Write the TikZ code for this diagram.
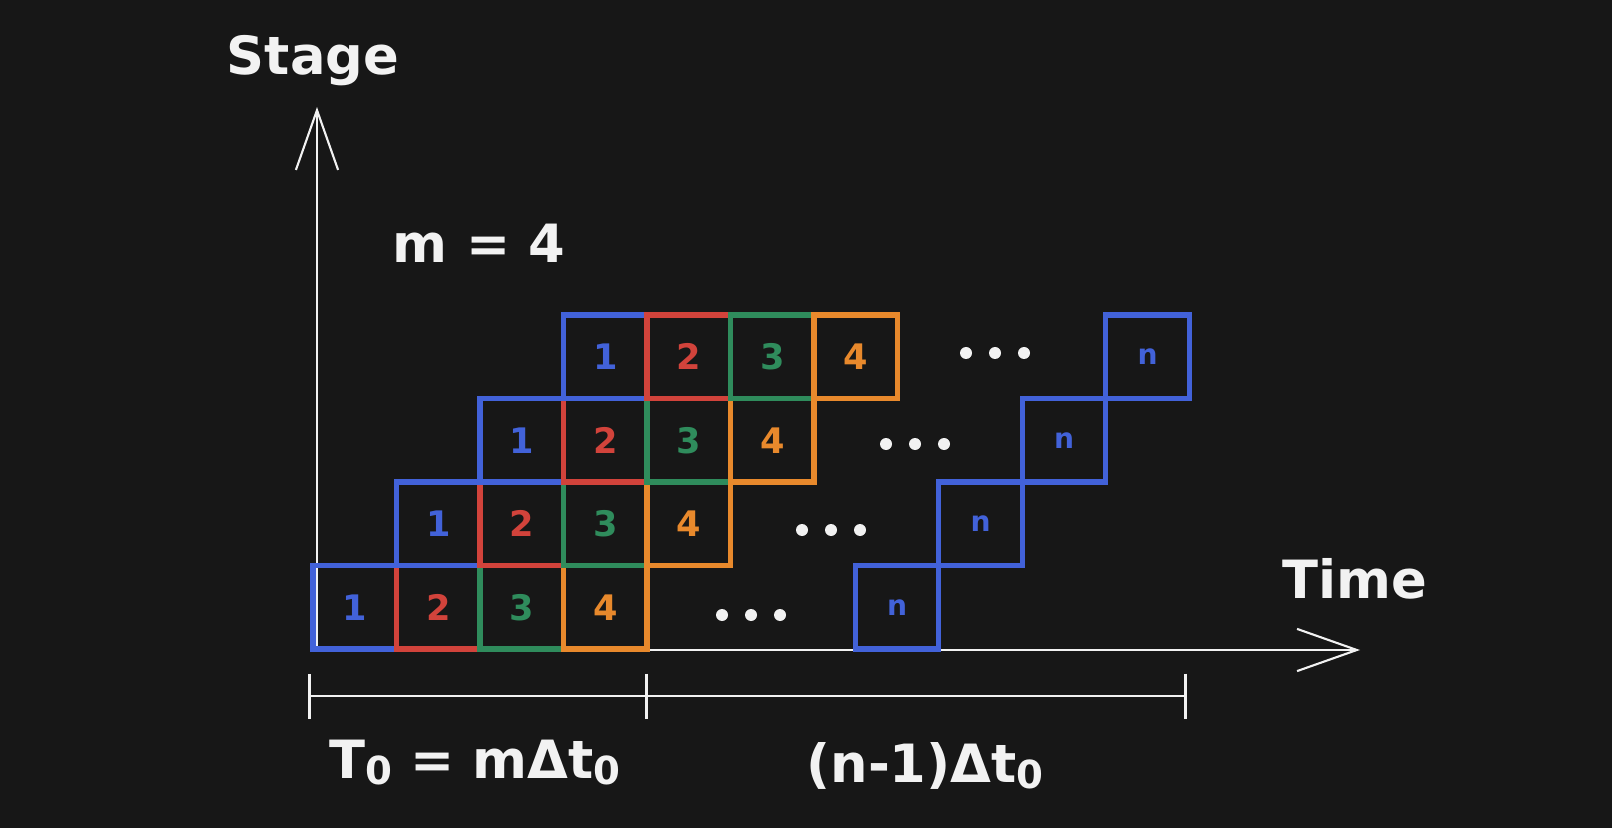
\documentclass[tikz,border=0pt]{standalone}
\usepackage{fontspec}
\setmainfont{DejaVu Sans}
\usetikzlibrary{arrows.meta,positioning}
\definecolor{Board}{HTML}{171717}
\definecolor{Chalk}{HTML}{F2F2F2}
\definecolor{Blue}{HTML}{4262D9}
\definecolor{Red}{HTML}{D2433B}
\definecolor{Green}{HTML}{2F8C5C}
\definecolor{Orange}{HTML}{E8892C}
\newcommand{\subzero}{\raisebox{-0.12em}{\fontsize{22}{22}\selectfont 0}}

\begin{document}
\begin{tikzpicture}[
  cell/.style={draw,line width=3pt,minimum size=1.67cm,inner sep=0pt,outer sep=0pt,font=\fontsize{20}{24}\selectfont\bfseries},
  cellblue/.style={cell,draw=Blue,text=Blue},
  cellred/.style={cell,draw=Red,text=Red},
  cellgreen/.style={cell,draw=Green,text=Green},
  cellorange/.style={cell,draw=Orange,text=Orange},
  celln/.style={cell,draw=Blue,text=Blue,font=\fontsize{16}{18}\selectfont\bfseries},
  dot/.style={circle,fill=Chalk,minimum size=0.24cm,inner sep=0pt},
  axis/.style={draw=Chalk,line width=1.2pt,-{Straight Barb[length=34pt,width=24pt]}},
  span/.style={draw=Chalk,line width=1.5pt},
  label/.style={text=Chalk,font=\fontsize{30}{36}\selectfont\bfseries,anchor=base}
]
\fill[Board] (0,0) rectangle (32.24,16.56);
\useasboundingbox (0,0) rectangle (32.24,16.56);
% axes
\coordinate (origin) at (6.34,3.56);
\coordinate (ytip) at (6.34,14.42);
\coordinate (xtip) at (27.20,3.56);
\draw[axis] (origin) -- (ytip);
\draw[axis] (origin) -- (xtip);
% stage 1..4, first four rows
\node[cellblue] (b00) at (7.095,4.415) {1};
\node[cellred,right=0pt of b00] (b01) {2};
\node[cellgreen,right=0pt of b01] (b02) {3};
\node[cellorange,right=0pt of b02] (b03) {4};
\node[cellblue,above right=0pt of b00] (b10) {1};
\node[cellred,right=0pt of b10] (b11) {2};
\node[cellgreen,right=0pt of b11] (b12) {3};
\node[cellorange,right=0pt of b12] (b13) {4};
\node[cellblue,above right=0pt of b10] (b20) {1};
\node[cellred,right=0pt of b20] (b21) {2};
\node[cellgreen,right=0pt of b21] (b22) {3};
\node[cellorange,right=0pt of b22] (b23) {4};
\node[cellblue,above right=0pt of b20] (b30) {1};
\node[cellred,right=0pt of b30] (b31) {2};
\node[cellgreen,right=0pt of b31] (b32) {3};
\node[cellorange,right=0pt of b32] (b33) {4};
% last task
\node[celln] (bn0) at (17.94,4.415) {n};
\node[celln,above right=0pt of bn0] (bn1) {n};
\node[celln,above right=0pt of bn1] (bn2) {n};
\node[celln,above right=0pt of bn2] (bn3) {n};
% dots
\node[dot] (d0a) at (14.44,4.26) {}; \node[dot] (d0b) at (15.02,4.26) {}; \node[dot] (d0c) at (15.60,4.26) {};
\node[dot] (d1a) at (16.04,5.96) {}; \node[dot] (d1b) at (16.62,5.96) {}; \node[dot] (d1c) at (17.20,5.96) {};
\node[dot] (d2a) at (17.72,7.68) {}; \node[dot] (d2b) at (18.30,7.68) {}; \node[dot] (d2c) at (18.88,7.68) {};
\node[dot] (d3a) at (19.32,9.50) {}; \node[dot] (d3b) at (19.90,9.50) {}; \node[dot] (d3c) at (20.48,9.50) {};
% spans
\coordinate (m0) at (6.16,2.64);
\coordinate (m1) at (12.96,2.64);
\coordinate (m2) at (23.74,2.64);
\draw[span,{Bar[width=0.9cm]}-{Bar[width=0.9cm]}] (m0) -- (m1);
\draw[span,-{Bar[width=0.9cm]}] (m1) -- (m2);
% labels
\node[label] (stage) at (6.26,15.06) {Stage};
\node[label] (time) at (27.10,4.60) {Time};
\node[label] (mval) at (9.58,11.30) {m = 4};
\node[label] (fill) at (9.50,1.00) {T\subzero{} = mΔt\subzero};
\node[label] (rest) at (18.50,0.92) {(n-1)Δt\subzero};
\end{tikzpicture}
\end{document}
